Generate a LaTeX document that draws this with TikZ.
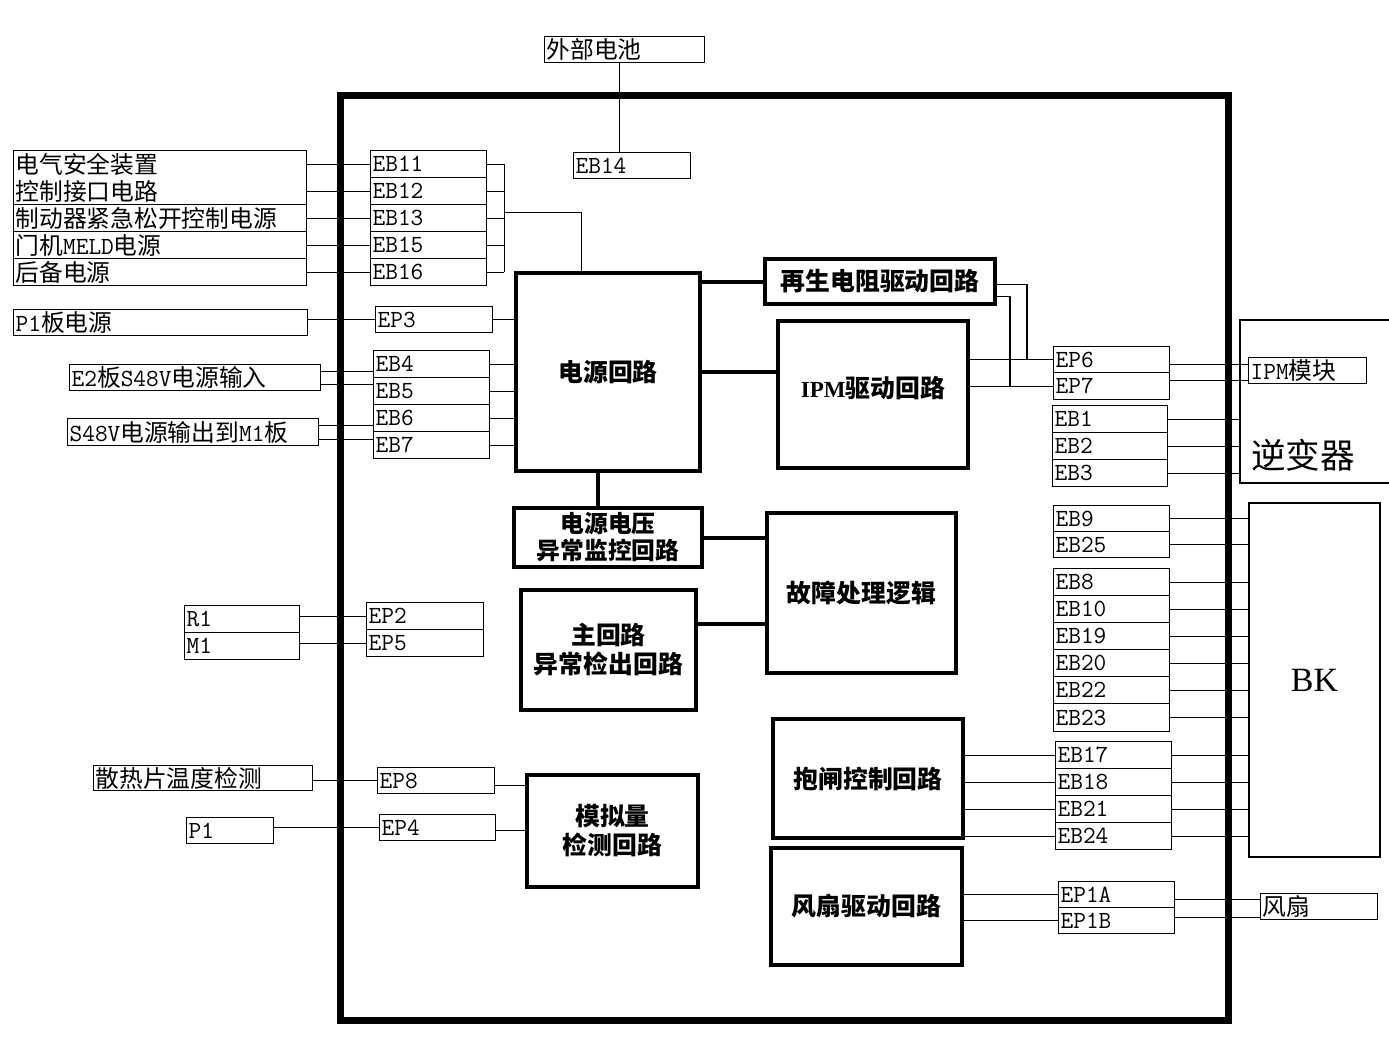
\documentclass[tikz,border=0pt]{standalone}
\usepackage{fontspec}
\setmainfont{Latin Modern Mono}[Scale=1.12]
\newfontfamily\cjk[Scale=1.08]{Noto Sans CJK SC}
\newfontfamily\bkserif{Liberation Serif}
\newcommand\zh[1]{{\cjk #1}}
\usetikzlibrary{calc}
\begin{document}
\begin{tikzpicture}[x=1pt,y=-1pt,
  cell/.style={draw, line width=1.3pt, inner xsep=2pt, inner ysep=0pt, minimum height=27pt,
               text width=#1, align=left, anchor=north west, font=\fontsize{22}{26}\selectfont},
  blk/.style={draw, line width=4.5pt, inner sep=0pt, align=center, font=\fontsize{23}{29}\selectfont\bfseries},
  wire/.style={line width=1.2pt},
  bus/.style={line width=4pt}]
\useasboundingbox (0,0) rectangle (1389,1036);
\fill[white] (0,0) rectangle (1389,1036);

% main frame
\node[draw, line width=7pt, minimum width=888pt, minimum height=925pt] (frame) at (784,557.5) {};

% ---------- left side cells ----------
\node[cell=289, minimum height=54pt, font=\fontsize{22}{27}\selectfont] (ls1) at (13,150) {\zh{电气安全装置}\\\zh{控制接口电路}};
\node[cell=289] (ls2) at (13,204) {\zh{制动器紧急松开控制电源}};
\node[cell=289] (ls3) at (13,231) {\zh{门机}MELD\zh{电源}};
\node[cell=289] (ls4) at (13,258) {\zh{后备电源}};

\node[cell=112] (eb11) at (370,150) {EB11};
\node[cell=112] (eb12) at (370,177) {EB12};
\node[cell=112] (eb13) at (370,204) {EB13};
\node[cell=112] (eb15) at (370,231) {EB15};
\node[cell=112] (eb16) at (370,258) {EB16};

\node[cell=156, minimum height=26pt] (bat) at (544,36) {\zh{外部电池}};
\node[cell=113, minimum height=26pt] (eb14) at (573,152) {EB14};

\node[cell=290, minimum height=26pt] (p1b) at (13,309) {P1\zh{板电源}};
\node[cell=113, minimum height=26pt] (ep3) at (375,306) {EP3};

\node[cell=247, minimum height=26pt] (e2) at (69,364) {E2\zh{板}S48V\zh{电源输入}};
\node[cell=247] (s48) at (67,418) {S48V\zh{电源输出到}M1\zh{板}};
\node[cell=112] (eb4) at (373,350) {EB4};
\node[cell=112] (eb5) at (373,377) {EB5};
\node[cell=112] (eb6) at (373,404) {EB6};
\node[cell=112] (eb7) at (373,431) {EB7};

\node[cell=111] (r1) at (184,605) {R1};
\node[cell=111] (m1) at (184,632) {M1};
\node[cell=113] (ep2) at (366,602) {EP2};
\node[cell=113] (ep5) at (366,629) {EP5};

\node[cell=215, minimum height=25pt] (heat) at (93,765) {\zh{散热片温度检测}};
\node[cell=113, minimum height=26pt] (ep8) at (377,767) {EP8};
\node[cell=83, minimum height=26pt] (p1) at (186,817) {P1};
\node[cell=112, minimum height=26pt] (ep4) at (379,814) {EP4};

% ---------- function blocks ----------
\node[blk, minimum width=184pt, minimum height=198pt] (psu) at (608,372) {\zh{电源回路}};
\node[blk, minimum width=188pt, minimum height=59pt, font=\fontsize{22}{27}\selectfont\bfseries] (vmon) at (608,537.5) {\zh{电源电压}\\\zh{异常监控回路}};
\node[blk, minimum width=189pt, minimum height=160pt] (fault) at (861.5,593) {\zh{故障处理逻辑}};
\node[blk, minimum width=175pt, minimum height=120pt] (main) at (608.5,650) {\zh{主回路}\\\zh{异常检出回路}};
\node[blk, minimum width=171pt, minimum height=112pt] (ana) at (612.5,831) {\zh{模拟量}\\\zh{检测回路}};
\node[blk, minimum width=230pt, minimum height=45pt] (regen) at (880,281.5) {\zh{再生电阻驱动回路}};
\node[blk, minimum width=190pt, minimum height=147pt] (ipm) at (873,394.5) {\raisebox{16pt}{{\bkserif\bfseries IPM}\zh{驱动回路}}};
\node[blk, minimum width=190pt, minimum height=119pt] (brake) at (868,778.5) {\zh{抱闸控制回路}};
\node[blk, minimum width=191pt, minimum height=117pt] (fand) at (866.5,906.5) {\zh{风扇驱动回路}};

% ---------- right side cells ----------
\node[cell=112, minimum height=26pt] (ep6) at (1053,346) {EP6};
\node[cell=112] (ep7) at (1053,372) {EP7};
\node[cell=111] (eb1) at (1052,405) {EB1};
\node[cell=111] (eb2) at (1052,432) {EB2};
\node[cell=111] (eb3) at (1052,459) {EB3};
\node[cell=114, minimum height=26pt] (ipmm) at (1248,357) {IPM\zh{模块}};

\draw[wire] (1389,320) -| (1240,483) -- (1389,483);
\coordinate (invL) at (1240,450);
\node[font=\fontsize{32}{36}\selectfont] (inv) at (1303,455) {\zh{逆变器}};

\node[cell=112, minimum height=26pt] (eb9) at (1053,505) {EB9};
\node[cell=112, minimum height=26pt] (eb25) at (1053,531) {EB25};
\node[cell=112] (eb8) at (1053,568) {EB8};
\node[cell=112] (eb10) at (1053,595) {EB10};
\node[cell=112] (eb19) at (1053,622) {EB19};
\node[cell=112] (eb20) at (1053,649) {EB20};
\node[cell=112] (eb22) at (1053,676) {EB22};
\node[cell=112, minimum height=28pt] (eb23) at (1053,703) {EB23};
\node[cell=112] (eb17) at (1055,741) {EB17};
\node[cell=112] (eb18) at (1055,768) {EB18};
\node[cell=112] (eb21) at (1055,795) {EB21};
\node[cell=112] (eb24) at (1055,822) {EB24};
\node[cell=112, minimum height=26pt] (ep1a) at (1058,881) {EP1A};
\node[cell=112, minimum height=26pt] (ep1b) at (1058,907) {EP1B};
\node[cell=113, minimum height=26pt] (fan) at (1260,893) {\zh{风扇}};

\node[draw, line width=1.3pt, minimum width=131pt, minimum height=354pt,
      font=\bkserif\fontsize{34}{38}\selectfont] (bk) at (1314.5,680) {BK};

% ---------- connectors: left ----------
\draw[wire] (eb11.west) -- (eb11.west -| ls1.east);
\draw[wire] (eb12.west) -- (eb12.west -| ls1.east);
\draw[wire] (eb13.west) -- (eb13.west -| ls2.east);
\draw[wire] (eb15.west) -- (eb15.west -| ls3.east);
\draw[wire] (eb16.west) -- (eb16.west -| ls4.east);
\foreach \n in {eb11,eb12,eb13,eb15,eb16} \draw[wire] (\n.east) -- ++(17,0);
\draw[wire] ($(eb11.east)+(17,0)$) -- ($(eb16.east)+(17,0)$);
\draw[wire] ($(eb13.east)+(17,-6)$) -| ($(psu.north west)+(68,0)$);

\draw[wire] ($(bat.south)+(-5,0)$) coordinate (a) -- (a |- eb14.north);

\draw[wire] (ep3.west) -- (ep3.west -| p1b.east);
\draw[wire] (ep3.east) -- (ep3.east -| psu.west);

\draw[wire] ($(e2.east)+(0,-6.5)$) coordinate (a) -- (a -| eb4.west);
\draw[wire] ($(e2.east)+(0,6.5)$) coordinate (a) -- (a -| eb5.west);
\draw[wire] ($(s48.east)+(0,-7)$) coordinate (a) -- (a -| eb6.west);
\draw[wire] ($(s48.east)+(0,7)$) coordinate (a) -- (a -| eb7.west);
\foreach \n in {eb4,eb5,eb6,eb7} \draw[wire] (\n.east) -- (\n.east -| psu.west);

\draw[wire] (ep2.west) -- (ep2.west -| r1.east);
\draw[wire] (ep5.west) -- (ep5.west -| m1.east);

\draw[wire] (ep8.west) -- (ep8.west -| heat.east);
\draw[wire] (ep4.west) -- (ep4.west -| p1.east);
\draw[wire] ($(ep8.east)+(0,5)$) coordinate (a) -- (a -| ana.west);
\draw[wire] ($(ep4.east)+(0,3)$) coordinate (a) -- (a -| ana.west);

% ---------- connectors: blocks ----------
\draw[bus] (regen.west) -- (regen.west -| psu.east);
\draw[bus] (psu.east) -- (psu.east -| ipm.west);
\draw[bus] ($(psu.south)+(-10,0)$) coordinate (a) -- (a |- vmon.north);
\draw[bus] (vmon.east) -- (vmon.east -| fault.west);
\draw[bus] ($(main.east)+(0,-26)$) coordinate (a) -- (a -| fault.west);

% ---------- connectors: right ----------
\draw[wire] (ep6.west) -- (ep6.west -| ipm.east);
\draw[wire] (ep7.west) -- (ep7.west -| ipm.east);
\draw[wire] ($(regen.east)+(0,3)$) -| ($(ep6.west)+(-26,0)$);
\draw[wire] ($(regen.east)+(0,15)$) -| ($(ep7.west)+(-43,0)$);
\draw[wire] ($(ipmm.west)+(0,-6)$) coordinate (a) -- (a -| ep6.east);
\draw[wire] ($(ipmm.west)+(0,10)$) coordinate (a) -- (a -| ep7.east);
\foreach \n in {eb1,eb2,eb3} \draw[wire] (\n.east) -- (\n.east -| invL);

\foreach \n in {eb9,eb25,eb8,eb10,eb19,eb20,eb22,eb23,eb17,eb18,eb21,eb24}
  \draw[wire] (\n.east) -- (\n.east -| bk.west);
\foreach \n in {eb17,eb18,eb21,eb24} \draw[wire] (\n.west) -- (\n.west -| brake.east);

\draw[wire] (ep1a.west) -- (ep1a.west -| fand.east);
\draw[wire] (ep1b.west) -- (ep1b.west -| fand.east);
\draw[wire] ($(fan.west)+(0,-7)$) coordinate (a) -- (a -| ep1a.east);
\draw[wire] ($(fan.west)+(0,11)$) coordinate (a) -- (a -| ep1b.east);
\end{tikzpicture}
\end{document}
